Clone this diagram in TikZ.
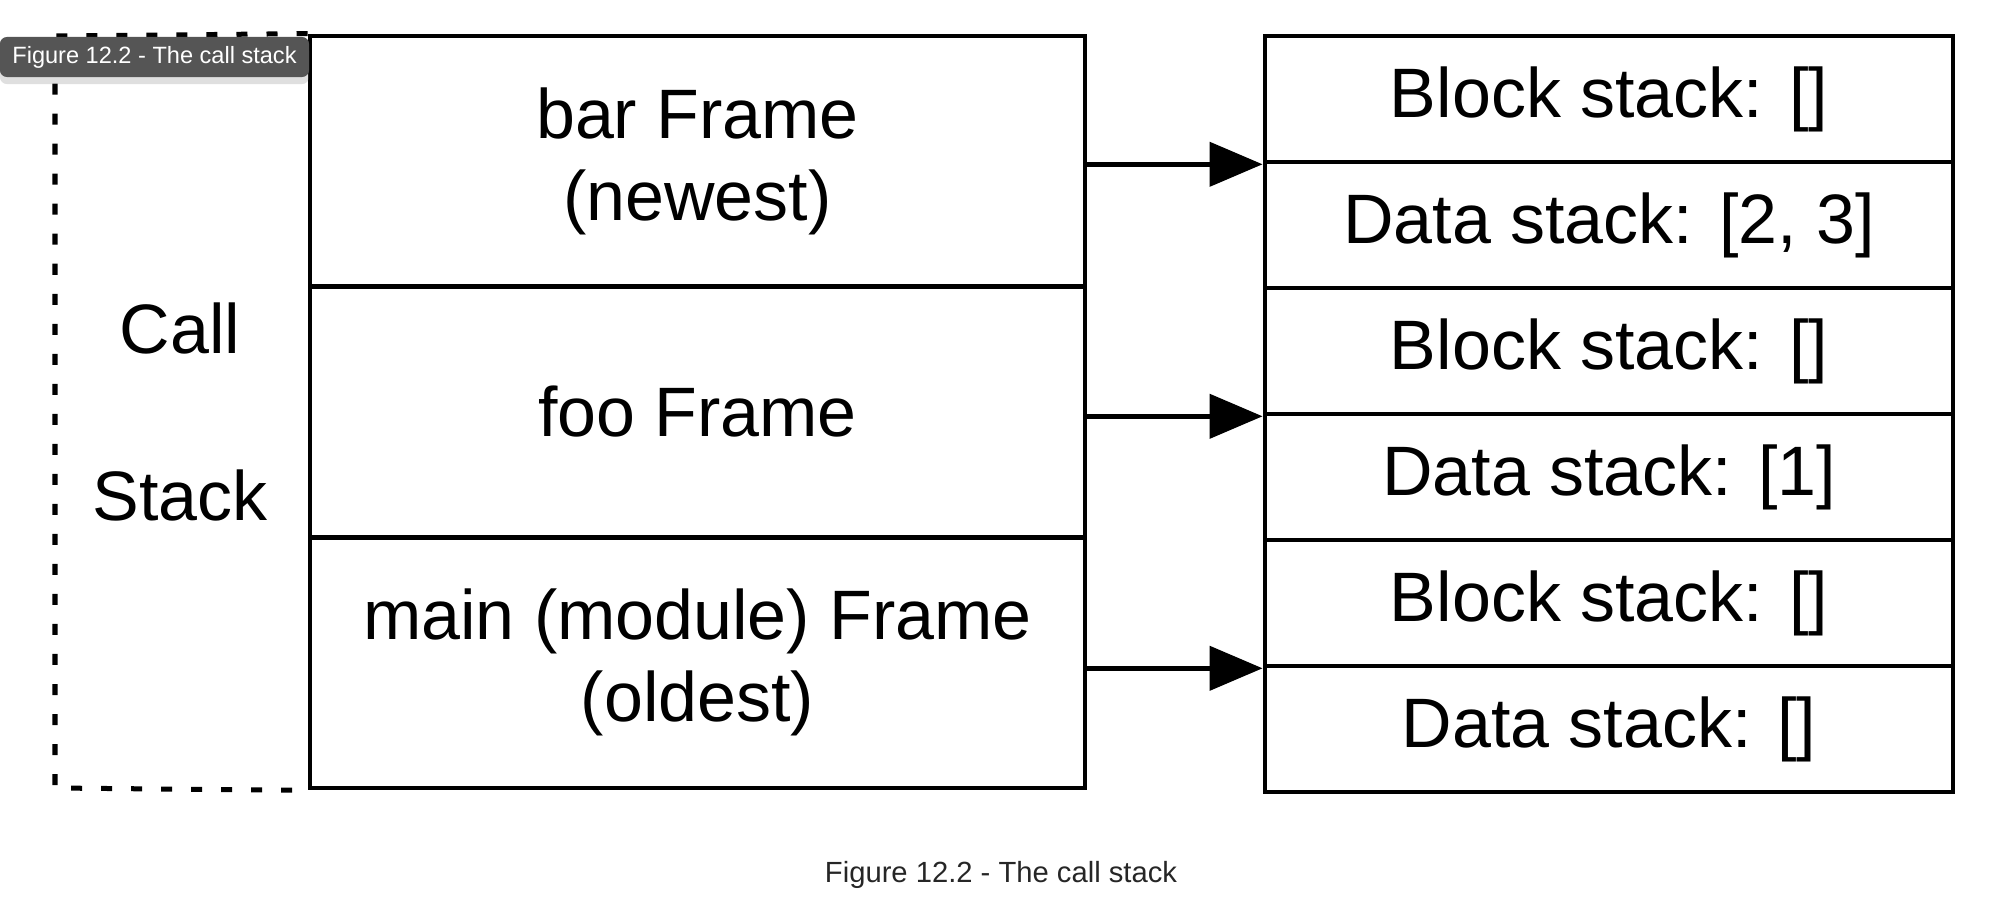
\documentclass[tikz,border=0pt]{standalone}
\usepackage{fontspec}
\setmainfont{Liberation Sans}
\usetikzlibrary{arrows.meta,shadows}
\definecolor{tipgray}{HTML}{555555}
\tikzset{
frame/.style={draw=black,line width=0.045cm,minimum width=7.75cm,minimum height=2.507cm,inner sep=0pt,align=center,font=\fontsize{19.9}{23.3}\selectfont},
cell/.style={draw=black,line width=0.045cm,minimum width=6.88cm,minimum height=1.26cm,inner sep=0pt,font=\fontsize{19.9}{23.3}\selectfont},
ptr/.style={-{Triangle[length=0.53cm,width=0.44cm]},line width=0.045cm},
}
\begin{document}
\begin{tikzpicture}[x=0.01cm,y=-0.01cm]
\useasboundingbox (0,0) rectangle (2000,900);

\node[font=\fontsize{19.9}{23.3}\selectfont] (call) at (180,328){Call};
\node[font=\fontsize{19.9}{23.3}\selectfont] (stk) at (180,495){Stack};

\node[frame] (bar) at (697.5,161.3){bar Frame\\(newest)};
\node[frame] (foo) at (697.5,412){foo Frame};
\node[frame] (main) at (697.5,662.7){main (module) Frame\\(oldest)};

\draw[line width=0.05cm,dash pattern=on 0.11cm off 0.19cm] (bar.north west) -- (55,36) -- (55,788) -- (main.south west);

\node[cell] (blk1) at (1609,99){Block stack: []};
\node[cell] (dat1) at (1609,225){Data stack: [2, 3]};
\node[cell] (blk2) at (1609,351){Block stack: []};
\node[cell] (dat2) at (1609,477){Data stack: [1]};
\node[cell] (blk3) at (1609,603){Block stack: []};
\node[cell] (dat3) at (1609,729){Data stack: []};

\path [ptr] (blk1.south west -| bar.east) edge (blk1.south west);
\path [ptr] (blk2.south west -| foo.east) edge (blk2.south west);
\path [ptr] (blk3.south west -| main.east) edge (blk3.south west);

\node[font=\fontsize{8.3}{10}\selectfont,text=black!85] (cap) at (1001,875){Figure 12.2 - The call stack};
%tooltip
\node[fill=tipgray,text=white,rounded corners=2pt,minimum width=3.09cm,minimum height=0.40cm,inner sep=0pt,
  font=\fontsize{6.7}{8}\selectfont,drop shadow={shadow xshift=0pt,shadow yshift=-2pt,opacity=0.25}] (tip) at (154.5,57){Figure 12.2 - The call stack};
\end{tikzpicture}
\end{document}
